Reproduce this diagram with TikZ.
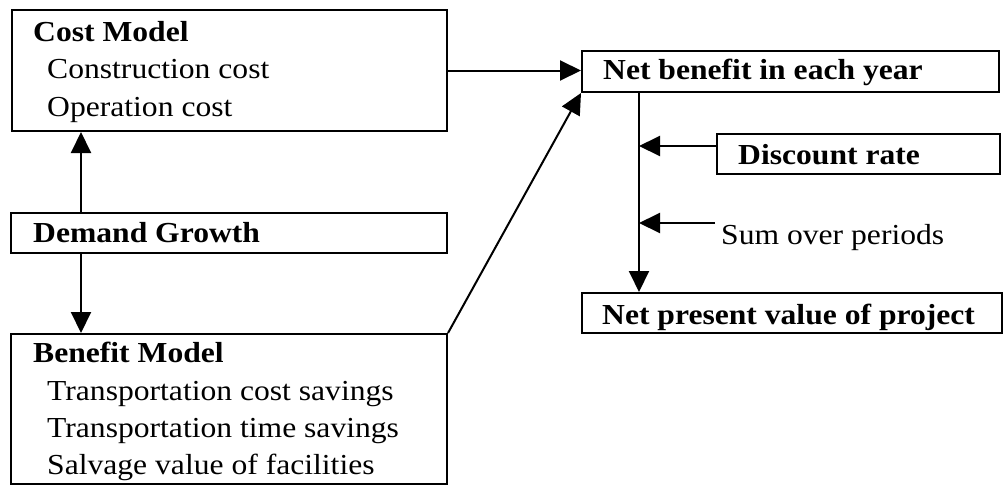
\documentclass[tikz,border=0pt]{standalone}
\usepackage{fontspec}
\setmainfont{Liberation Serif}[FakeStretch=1.09]
\usetikzlibrary{arrows.meta}
\begin{document}
\begin{tikzpicture}[x=1pt,y=-1pt,
  box/.style={draw, line width=2pt, inner sep=0pt, anchor=north west},
  lbl/.style={inner sep=0pt, anchor=base west, font=\fontsize{29}{35}\selectfont},
  head/.style={lbl, font=\fontsize{29}{35}\selectfont\bfseries},
  arr/.style={line width=2pt, -{Triangle[length=21pt,width=20pt]}}]
\useasboundingbox (0,0) rectangle (1003,485);

% boxes
\node[box, minimum width=435pt, minimum height=121pt] (cost)    at (11,9)   {};
\node[box, minimum width=436pt, minimum height=40pt]  (demand)  at (10,212) {};
\node[box, minimum width=436pt, minimum height=150pt] (benefit) at (10,333) {};
\node[box, minimum width=417pt, minimum height=41pt]  (net)     at (581,50) {};
\node[box, minimum width=283pt, minimum height=40pt]  (disc)    at (716,133){};
\node[box, minimum width=420pt, minimum height=40pt]  (npv)     at (581,292){};

% texts
\node[head] (tcost) at (33,41)  {Cost Model};
\node[lbl]  (tc1)   at (47,78)  {Construction cost};
\node[lbl]  (tc2)   at (47,116) {Operation cost};
\node[head] (tdem)  at (33,242) {Demand Growth};
\node[head] (tben)  at (33,362) {Benefit Model};
\node[lbl]  (tb1)   at (47,400) {Transportation cost savings};
\node[lbl]  (tb2)   at (47,437) {Transportation time savings};
\node[lbl]  (tb3)   at (47,474) {Salvage value of facilities};
\node[head] (tnet)  at (603,79) {Net benefit in each year};
\node[head] (tdisc) at (738,164){Discount rate};
\node[lbl]  (sum)   at (721,244){Sum over periods};
\node[head] (tnpv)  at (602,324){Net present value of project};

% connector guides
\coordinate (col)     at (81,0);
\coordinate (spine)   at (639,0);
\coordinate (drtail)  at (716,146);
\coordinate (sumtail) at (715,223);

% connectors
\draw[arr] (cost.east) -- (cost.east -| net.west);
\draw[arr] (benefit.north east) -- (net.south west);
\draw[arr] (demand.north -| col) -- (cost.south -| col);
\draw[arr] (demand.south -| col) -- (benefit.north -| col);
\draw[arr] (net.south -| spine) -- (npv.north -| spine);
\draw[arr] (drtail) -- (drtail -| spine);
\draw[arr] (sumtail) -- (sumtail -| spine);
\end{tikzpicture}
\end{document}
